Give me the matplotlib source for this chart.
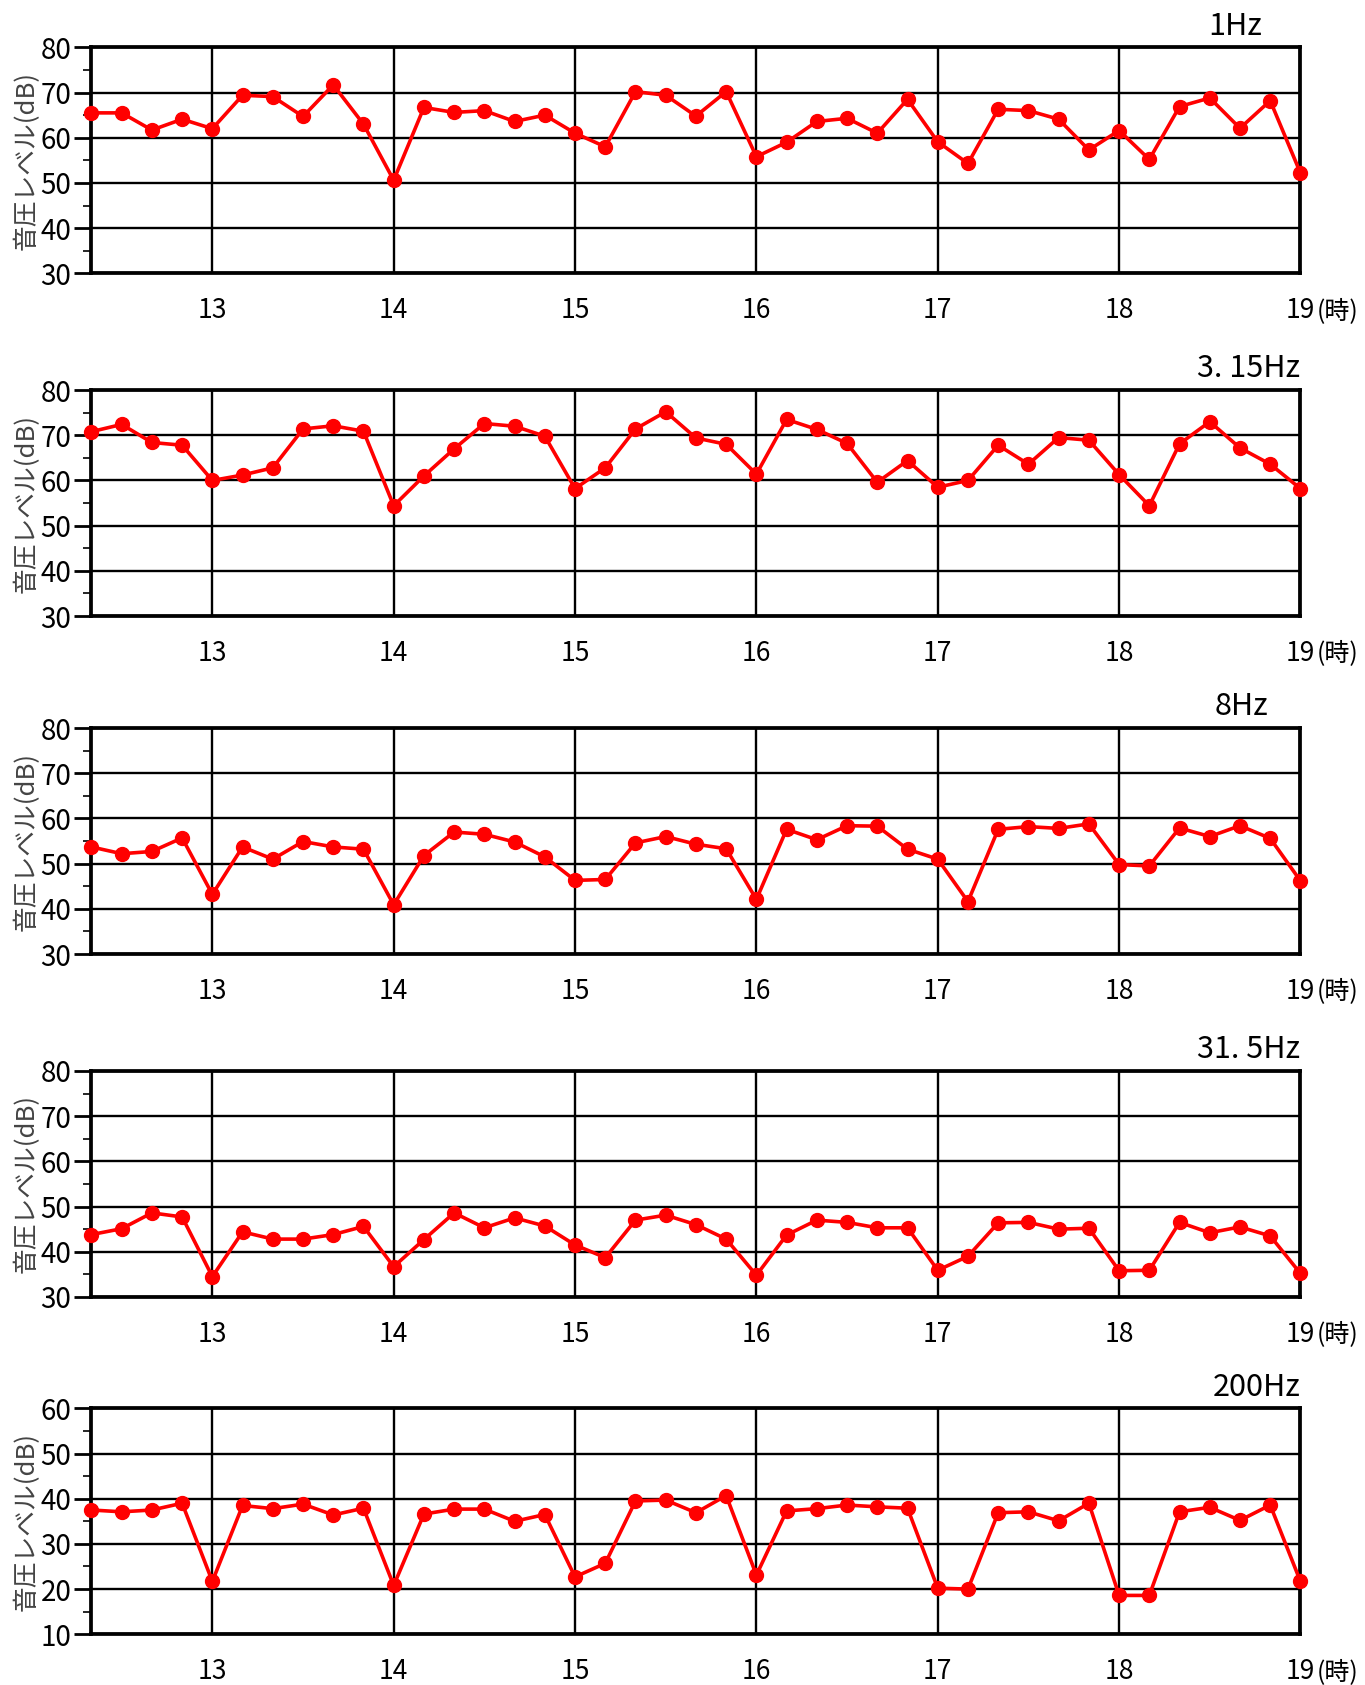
import numpy as np
import matplotlib
matplotlib.use('Agg')
import matplotlib.pyplot as plt
from matplotlib.ticker import MultipleLocator

# measurement every 10 minutes from 12:20 to 19:00
Times = 12 + np.arange(2, 43) / 6.0

Hz1 = [65.5, 65.5, 61.7, 64.1, 62.0, 69.4, 69.1, 64.7, 71.7, 63.0,
       50.6, 66.7, 65.6, 66.0, 63.6, 65.0, 61.0, 58.0, 70.2, 69.4,
       64.8, 70.2, 55.8, 59.0, 63.6, 64.3, 61.0, 68.5, 59.1, 54.3,
       66.3, 66.0, 64.1, 57.3, 61.6, 55.2, 66.9, 68.8, 62.1, 68.2, 52.2]

Hz3_15 = [70.8, 72.4, 68.4, 67.8, 60.0, 61.2, 62.8, 71.4, 72.1, 70.9,
          54.4, 61.0, 67.0, 72.6, 72.0, 69.8, 58.2, 62.8, 71.4, 75.2,
          69.4, 68.0, 61.4, 73.5, 71.3, 68.2, 59.6, 64.4, 58.5, 60.0,
          67.8, 63.6, 69.5, 68.9, 61.3, 54.4, 68.1, 73.0, 67.2, 63.6, 58.2]

Hz8 = [53.7, 52.2, 52.7, 55.7, 43.2, 53.7, 51.0, 54.9, 53.7, 53.2,
       40.9, 51.8, 57.0, 56.5, 54.8, 51.5, 46.3, 46.5, 54.6, 56.0,
       54.3, 53.3, 42.1, 57.6, 55.3, 58.4, 58.3, 53.2, 51.0, 41.6,
       57.6, 58.2, 57.8, 58.8, 49.8, 49.5, 57.9, 56.0, 58.4, 55.6, 46.2]

Hz31_5 = [43.8, 45.1, 48.6, 47.7, 34.5, 44.4, 42.8, 42.8, 43.8, 45.6,
          36.7, 42.7, 48.6, 45.3, 47.5, 45.7, 41.5, 38.7, 47.0, 48.1,
          46.0, 42.8, 34.8, 43.7, 47.0, 46.5, 45.3, 45.3, 35.9, 39.0,
          46.4, 46.5, 45.0, 45.2, 35.8, 35.9, 46.5, 44.2, 45.5, 43.5, 35.2]

Hz200 = [37.5, 37.1, 37.5, 39.0, 21.7, 38.5, 37.8, 38.8, 36.4, 37.9,
         20.8, 36.6, 37.7, 37.7, 35.0, 36.5, 22.7, 25.7, 39.5, 39.7,
         36.9, 40.7, 23.1, 37.3, 37.8, 38.6, 38.2, 37.9, 20.2, 20.0,
         36.9, 37.1, 35.1, 39.0, 18.6, 18.6, 37.1, 38.1, 35.2, 38.6, 21.7]

Titles = ['1Hz', '3. 15Hz', '8Hz', '31. 5Hz', '200Hz']
Series = [Hz1, Hz3_15, Hz8, Hz31_5, Hz200]
YRanges = [(30, 80), (30, 80), (30, 80), (30, 80), (10, 60)]
HourTicks = [13, 14, 15, 16, 17, 18, 19]
YLabel = '音圧レベル(dB)'
HourUnit = '(時)'

JP_FONT = ['Noto Sans CJK JP', 'DejaVu Sans']


def draw_panel(ax, values, ylim, title, title_x):
    ax.plot(Times, values, color='#ff0000', linewidth=2.6, marker='o',
            markersize=10, clip_on=False, zorder=5)
    ax.set_xlim(Times[0], 19)
    ax.set_ylim(*ylim)
    ax.set_xticks(HourTicks)
    ax.set_xticklabels([str(h) for h in HourTicks], family=JP_FONT, fontsize=19)
    ax.yaxis.set_major_locator(MultipleLocator(10))
    ax.yaxis.set_minor_locator(MultipleLocator(5))
    for lab in ax.get_yticklabels():
        lab.set_family(JP_FONT)
        lab.set_fontsize(20)
    ax.tick_params(axis='x', length=0, pad=17)
    ax.tick_params(axis='y', which='major', direction='out', length=12.5, width=2, pad=2)
    ax.tick_params(axis='y', which='minor', direction='out', length=6, width=1.2)
    ax.grid(True, which='major', color='black', linewidth=1.7)
    for sp in ax.spines.values():
        sp.set_linewidth(2.7)
    ax.set_ylabel(YLabel, family=JP_FONT, fontsize=18.5, color='#444444', va='center')
    ax.yaxis.set_label_coords(-0.0535, 0.5)
    ax.text(title_x, 1.025, title, transform=ax.transAxes, ha='right', va='bottom',
            family=JP_FONT, fontsize=22)
    ax.annotate(HourUnit, xy=(19, 0), xycoords=('data', 'axes fraction'),
                xytext=(12, -27), textcoords='offset points', ha='left', va='center',
                family=JP_FONT, fontsize=18)


def main():
    fig = plt.figure(figsize=(13.65, 16.85), dpi=100)
    bottoms = [0.8378, 0.6344, 0.4338, 0.2303, 0.0301]
    title_xs = [0.968, 1.0, 0.973, 1.0, 1.0]
    for i in range(5):
        ax = fig.add_axes([0.067, bottoms[i], 0.8857, 0.1341])
        draw_panel(ax, Series[i], YRanges[i], Titles[i], title_xs[i])
    fig.savefig('out.png', dpi=100)


if __name__ == "__main__":
    main()
